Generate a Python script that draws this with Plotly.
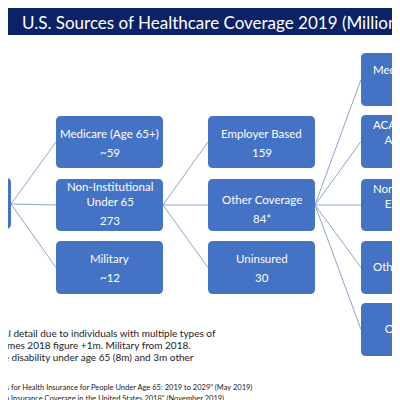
import plotly.graph_objects as go

title = "U.S. Sources of Healthcare Coverage 2019 (Millions)"
col1_labels = ["Medicare (Age 65+)", "Non-Institutional<br>Under 65", "Military"]
col1_values = ["~59", "273", "~12"]
col2_labels = ["Employer Based", "Other Coverage", "Uninsured"]
col2_values = ["159", "84*", "30"]
col3_labels = ["Medicaid/CHIP", "ACA Marketplace<br>    ACA Compliant", "Nongroup<br>    Exclusive", "Other Nongroup", "    Other"]
notes = [
    "Note: Total does not equal detail due to individuals with multiple types of",
    "Medicare (65+) assumes 2018 figure +1m. Military from 2018.",
    "*Other includes Medicare disability under age 65 (8m) and 3m other",
]
sources = [
    "Source: CBO, \u201cFederal Subsidies for Health Insurance for People Under Age 65: 2019 to 2029\u201d (May 2019)",
    "Census, \u201cHealth Insurance Coverage in the United States 2018\u201d (November 2019)",
]

BOX = "#4472C4"
LINE = "#8EA5CF"
FONT = "Lato"
shapes, ann = [], []

def rbox(x0, y0, x1, y1, r=5):
    return dict(type="path", xref="x", yref="y", fillcolor=BOX, line=dict(width=0), layer="above",
                path=f"M{x0+r},{y0} L{x1-r},{y0} Q{x1},{y0} {x1},{y0+r} L{x1},{y1-r} Q{x1},{y1} {x1-r},{y1} "
                     f"L{x0+r},{y1} Q{x0},{y1} {x0},{y1-r} L{x0},{y0+r} Q{x0},{y0} {x0+r},{y0} Z")

def line(x0, y0, x1, y1):
    shapes.append(dict(type="line", x0=x0, y0=y0, x1=x1, y1=y1, line=dict(color=LINE, width=1), layer="below"))

def txt(x, y, t, size=11.5, color="white", anchor="center", align="center"):
    ann.append(dict(x=x, y=y, text=t, showarrow=False, xanchor=anchor, yanchor="middle", align=align,
                    font=dict(size=size, color=color, family=FONT)))

rows3 = [(108, 160), (171, 223), (233, 286)]
shapes.append(rbox(-60, 170, 3, 221))
for (y0, y1) in rows3:
    line(3, 196, 48, (y0 + y1) / 2)
    line(155, 197, 200, (y0 + y1) / 2)
for i, (y0, y1) in enumerate(rows3):
    shapes.append(rbox(48, y0, 155, y1))
    shapes.append(rbox(200, y0, 307, y1))
    if i == 1:
        txt(101.5, 186, col1_labels[i])
        txt(101.5, 212, col1_values[i])
    else:
        txt(101.5, y0 + 17, col1_labels[i])
        txt(101.5, y0 + 36, col1_values[i])
    txt(253.5, y0 + 17 + (3 if i == 1 else 0), col2_labels[i])
    txt(253.5, y0 + 36 + (3 if i == 1 else 0), col2_values[i])

rows5 = [(45, 98), (107, 160), (171, 223), (233, 286), (295, 348)]
ys3 = [61, 124, 188, 258, 320]
for i, (y0, y1) in enumerate(rows5):
    line(307, 197, 353, (y0 + y1) / 2)
    shapes.append(rbox(353, y0, 460, y1))
    txt(363, ys3[i], col3_labels[i], anchor="left", align="left")

shapes.append(dict(type="rect", x0=0, y0=0, x1=400, y1=27, fillcolor="#0B2265", line=dict(width=0), layer="above"))
ann.append(dict(x=12, y=14, text=title, showarrow=False, xanchor="left", yanchor="middle",
                font=dict(size=17, color="white", family=FONT)))

for y, t, x in zip([325, 337, 349], notes, [210, 185, 188]):
    txt(x, y, t, 10, "#222", "right")
for y, t, x in zip([379, 390], sources, [246, 218]):
    txt(x, y, t, 7.5, "#222", "right")

fig = go.Figure()
fig.update_layout(width=400, height=400, margin=dict(l=0, r=0, t=0, b=0),
                  paper_bgcolor="white", plot_bgcolor="white", shapes=shapes, annotations=ann,
                  xaxis=dict(range=[0, 400], visible=False, fixedrange=True),
                  yaxis=dict(range=[400, 0], visible=False, fixedrange=True), showlegend=False)
fig.write_html("out.html")
